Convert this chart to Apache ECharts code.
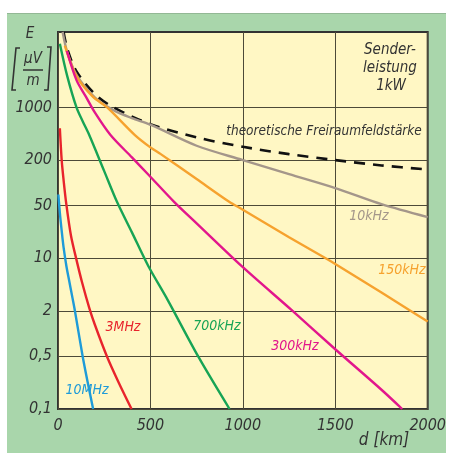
<!DOCTYPE html>
<html>
<head>
<meta charset="utf-8">
<script src="https://cdn.jsdelivr.net/npm/echarts@6/dist/echarts.min.js"></script>
<style>
html, body { margin: 0; padding: 0; background: #fff; }
#frame { position: absolute; left: 7px; top: 13px; width: 439px; height: 440px; background: #a9d6ab; border-top: 1px solid #93b895; }
#chart { position: absolute; left: 0; top: 0; width: 449px; height: 453px; }
</style>
</head>
<body>
<div id="frame"></div>
<div id="chart"></div>
<script>
// distances in km, field strength in µV/m
var dist10MHz = [2, 10, 20, 30, 46, 60, 78, 90, 134, 160, 190]
var e10MHz = [70, 40, 23, 14, 7.7, 5.1, 3.0, 2.1, 0.49, 0.23, 0.1]

var dist3MHz = [10, 20, 30, 45, 70, 100, 130, 169, 200, 266, 330, 398]
var e3MHz = [530, 200, 110, 52, 20, 9.5, 4.8, 2.2, 1.3, 0.49, 0.22, 0.1]

var dist700kHz = [10, 50, 100, 134, 169, 250, 319, 400, 487, 593, 760, 928]
var e700kHz = [7000, 2600, 1000, 650, 430, 143, 56, 22, 8, 2.8, 0.49, 0.1]

var dist300kHz = [48, 100, 150, 200, 284, 400, 487, 628, 750, 1000, 1263, 1500, 1750, 1862]
var e300kHz = [5600, 2300, 1400, 850, 430, 217, 130, 56, 29, 7.6, 2.06, 0.62, 0.18, 0.1]

var dist150kHz = [37, 100, 187, 266, 416, 500, 556, 750, 926, 1000, 1250, 1448, 1500, 1750, 1900, 2000]
var e150kHz = [6600, 2600, 1400, 1000, 430, 295, 240, 112, 56, 44, 19, 10, 8.4, 3.5, 2.05, 1.45]

var dist10kHz = [25, 50, 100, 200, 300, 400, 500, 750, 1000, 1250, 1500, 1750, 2000]
var e10kHz = [10000, 5400, 2700, 1350, 920, 720, 590, 310, 200, 130, 85, 52, 35]

var distFree = [30, 50, 100, 200, 300, 500, 750, 1000, 1250, 1500, 1750, 2000]
var eFree = [10000, 6000, 3000, 1500, 1000, 600, 400, 300, 240, 200, 170, 150]

var yTicks = [0.1, 0.5, 2, 10, 50, 200, 1000]
var xTicks = [0, 500, 1000, 1500, 2000]

var font = "'Liberation Sans Narrow', 'DejaVu Sans Condensed', sans-serif"
var txt = '#333'

function pairs(xs, ys) {
    return xs.map(function (x, i) { return [x, Math.log10(ys[i])] })
}

function curve(name, xs, ys, color, dashed) {
    return {
        name: name,
        type: 'line',
        data: pairs(xs, ys),
        smooth: 0.3,
        showSymbol: false,
        clip: true,
        lineStyle: {
            color: color,
            width: dashed ? 2.6 : 2.4,
            type: dashed ? [11, 8] : 'solid'
        }
    }
}

function label(text, x, y, color, size, align) {
    return {
        type: 'text',
        z: 100,
        style: {
            text: text, x: x, y: y, fill: color,
            font: 'italic ' + size + 'px ' + font,
            align: align || 'center', verticalAlign: 'middle'
        }
    }
}

var dom = document.getElementById('chart')
var myChart = echarts.init(dom, null, { renderer: 'canvas' })

var option = {
    animation: false,
    backgroundColor: 'transparent',
    grid: {
        left: 58, right: 13, top: 32, bottom: 44,
        show: true,
        backgroundColor: '#fff7c4',
        borderColor: '#333',
        borderWidth: 2
    },
    xAxis: {
        type: 'value',
        min: 0, max: 2000, interval: 500,
        axisLine: { show: false },
        axisTick: { show: false },
        splitLine: { show: true, lineStyle: { color: '#4d4a38', width: 1 } },
        axisLabel: {
            customValues: xTicks,
            margin: 9,
            color: txt, fontSize: 16, fontStyle: 'italic', fontFamily: font,
            formatter: function (v) { return String(v) }
        }
    },
    yAxis: {
        type: 'value',
        min: -1, max: 4,
        axisLine: { show: false },
        axisTick: { show: false, customValues: yTicks.map(Math.log10) },
        splitLine: { show: true, lineStyle: { color: '#4d4a38', width: 1 } },
        axisLabel: {
            customValues: yTicks.map(Math.log10),
            margin: 6,
            color: txt, fontSize: 16, fontStyle: 'italic', fontFamily: font,
            formatter: function (v) {
                return String(Number(Math.pow(10, v).toPrecision(3))).replace('.', ',')
            }
        }
    },
    series: [
        curve('theoretische Freiraumfeldstärke', distFree, eFree, '#111', true),
        curve('10kHz', dist10kHz, e10kHz, '#a4968a'),
        curve('150kHz', dist150kHz, e150kHz, '#f6a22e'),
        curve('300kHz', dist300kHz, e300kHz, '#e2168c'),
        curve('700kHz', dist700kHz, e700kHz, '#17a455'),
        curve('3MHz', dist3MHz, e3MHz, '#e8242c'),
        curve('10MHz', dist10MHz, e10MHz, '#1e9bd8')
    ],
    graphic: [
        label('E', 30, 34, txt, 15),
        label('µV', 33, 59, txt, 15),
        { type: 'line', shape: { x1: 23, y1: 70, x2: 43, y2: 70 }, style: { stroke: txt, lineWidth: 1.5 } },
        label('m', 33, 81, txt, 15),
        { type: 'polyline', shape: { points: [[20, 48], [16, 48], [12, 90], [16, 90]] }, style: { stroke: txt, lineWidth: 1.6, fill: null } },
        { type: 'polyline', shape: { points: [[47, 47], [51, 47], [48, 90], [44, 90]] }, style: { stroke: txt, lineWidth: 1.6, fill: null } },
        label('Sender-', 390, 50, txt, 15),
        label('leistung', 390, 68, txt, 15),
        label('1kW', 391, 86, txt, 15),
        label('theoretische Freiraumfeldstärke', 324, 131, txt, 13.5),
        label('10kHz', 369, 216, '#a4968a', 14),
        label('150kHz', 402, 270, '#f6a22e', 14),
        label('300kHz', 295, 346, '#e2168c', 14),
        label('700kHz', 217, 326, '#17a455', 14),
        label('3MHz', 123, 327, '#e8242c', 14),
        label('10MHz', 87, 390, '#1e9bd8', 14),
        label('d [km]', 384, 441, txt, 17)
    ]
}

if (option && typeof option === 'object') {
    myChart.setOption(option, true)
}
</script>
</body>
</html>
